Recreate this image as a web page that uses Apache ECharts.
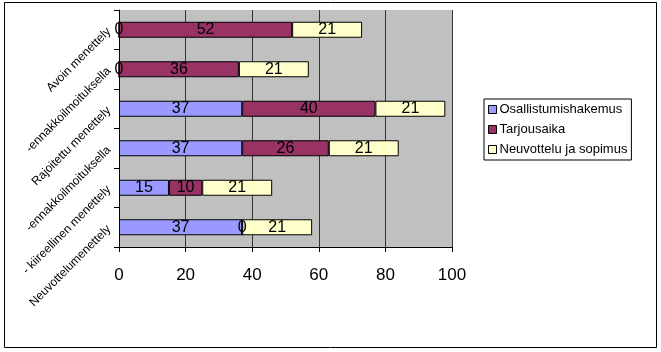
<!DOCTYPE html>
<html>
<head>
<meta charset="utf-8">
<script src="https://cdn.jsdelivr.net/npm/echarts@6/dist/echarts.min.js"></script>
<style>
body{margin:0;background:#fff;}
#chart{width:661px;height:352px;}
</style>
</head>
<body>
<div id="chart"></div>
<script>
var categories = ['Avoin menettely', '-ennakkoilmoituksella', 'Rajoitettu menettely', '-ennakkoilmoituksella', '- kiireellinen menettely', 'Neuvottelumenettely'];
var seriesNames = ['Osallistumishakemus', 'Tarjousaika', 'Neuvottelu ja sopimus'];
var osallistumis = [0, 0, 37, 37, 15, 37];
var tarjousaika = [52, 36, 40, 26, 10, 0];
var neuvottelu = [21, 21, 21, 21, 21, 21];
var xTicks = [0, 20, 40, 60, 80, 100];
var colors = ['#9999FF', '#993366', '#FFFFCC'];

var chart = echarts.init(document.getElementById('chart'));

var makeSeries = function(name, data, color){
    return {
        name: name,
        type: 'bar',
        stack: 'total',
        data: data,
        barWidth: 16,
        itemStyle: {color: color, borderColor: '#000', borderWidth: 1},
        label: {
            show: true,
            position: 'inside',
            color: '#000',
            fontFamily: 'Liberation Sans',
            fontSize: 16
        },
        emphasis: {disabled: true}
    };
};

chart.setOption({
    animation: false,
    textStyle: {fontFamily: 'Liberation Sans'},
    graphic: [{
        type: 'rect',
        shape: {x: 4.5, y: 2.5, width: 652, height: 345},
        style: {fill: 'none', stroke: '#000', lineWidth: 1}
    }],
    legend: {
        orient: 'vertical',
        left: 484,
        top: 99,
        itemWidth: 8,
        itemHeight: 8,
        itemGap: 7,
        padding: [4, 4, 4, 4],
        borderColor: '#000',
        borderWidth: 1,
        icon: 'rect',
        data: seriesNames,
        textStyle: {fontSize: 13, color: '#000', padding: [0, 0, 0, -2]},
        itemStyle: {borderColor: '#000', borderWidth: 1}
    },
    grid: {left: 119, right: 209, top: 10, bottom: 105, show: true, backgroundColor: '#C0C0C0', borderWidth: 0},
    xAxis: {
        type: 'value',
        min: xTicks[0],
        max: xTicks[xTicks.length - 1],
        interval: 20,
        axisLine: {show: true, lineStyle: {color: '#000'}},
        axisTick: {show: true, length: 5, lineStyle: {color: '#000'}},
        axisLabel: {color: '#000', fontSize: 17, margin: 20},
        splitLine: {show: true, lineStyle: {color: '#333', width: 1}}
    },
    yAxis: {
        type: 'category',
        data: categories,
        inverse: true,
        axisLine: {show: true, lineStyle: {color: '#000'}},
        axisTick: {show: true, length: 5, lineStyle: {color: '#000'}},
        axisLabel: {color: '#000', fontSize: 12, rotate: 45, margin: 10, padding: [8, 0, 0, 0]},
        splitLine: {show: false}
    },
    series: [
        makeSeries(seriesNames[0], osallistumis, colors[0]),
        makeSeries(seriesNames[1], tarjousaika, colors[1]),
        makeSeries(seriesNames[2], neuvottelu, colors[2])
    ]
});
</script>
</body>
</html>
